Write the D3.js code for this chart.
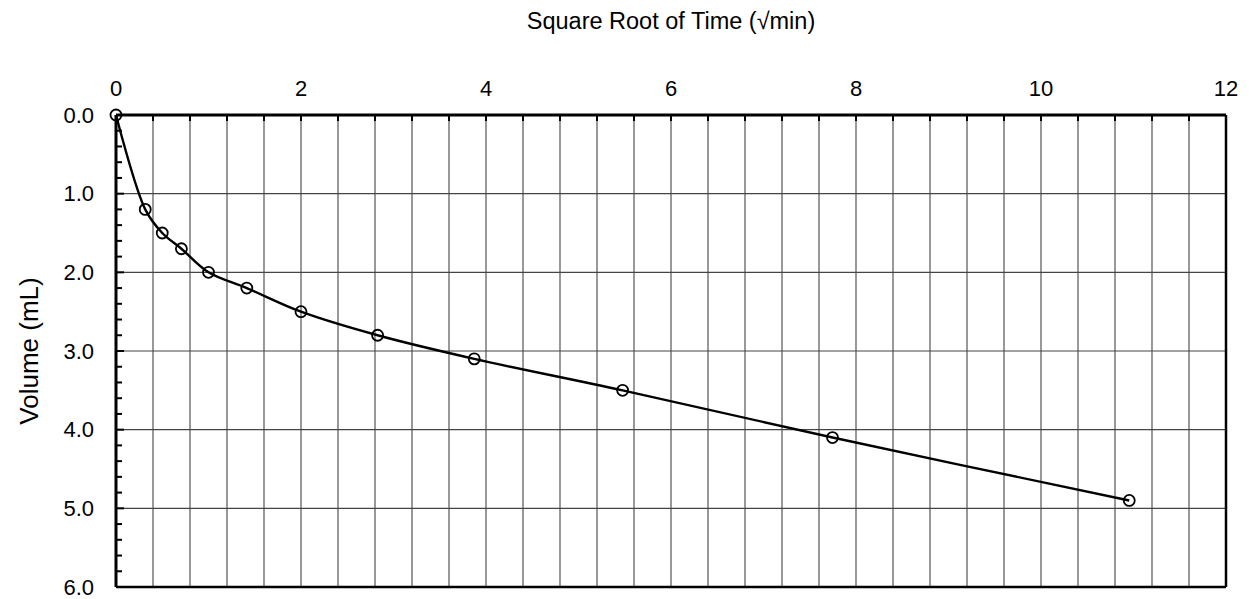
<!DOCTYPE html>
<html>
<head>
<meta charset="utf-8">
<script src="https://cdn.jsdelivr.net/npm/d3@7"></script>
<style>
  html, body { margin: 0; padding: 0; background: #fff; }
  svg { display: block; font-family: "Liberation Sans", Arial, sans-serif; }
</style>
</head>
<body>
<svg id="chart" width="1249" height="599"></svg>
<script>
// Square root of elapsed time (√min) and cumulative volume (mL)
const sqrtTime = [0, 0.316, 0.5, 0.707, 1.0, 1.414, 2.0, 2.828, 3.873, 5.477, 7.746, 10.954];
const volume   = [0, 1.2, 1.5, 1.7, 2.0, 2.2, 2.5, 2.8, 3.1, 3.5, 4.1, 4.9];
const xLabelTicks = [0, 2, 4, 6, 8, 10, 12];
const yLabelTicks = [0, 1, 2, 3, 4, 5, 6];

const svg = d3.select("#chart");
const plotL = 116, plotR = 1226, plotT = 115, plotB = 587;

const x = d3.scaleLinear().domain([0, 12]).range([plotL, plotR]);
const y = d3.scaleLinear().domain([0, 6]).range([plotT, plotB]);

const xGrid = d3.range(0, 12.0001, 0.4);
const yMinor = d3.range(0, 6.0001, 0.2);

// vertical gridlines every 0.4
svg.append("g").selectAll("line").data(xGrid.slice(1, -1)).join("line")
  .attr("x1", d => x(d)).attr("x2", d => x(d))
  .attr("y1", plotT).attr("y2", plotB)
  .attr("stroke", "#444").attr("stroke-width", 1.1);

// horizontal gridlines every 1.0
svg.append("g").selectAll("line").data(yLabelTicks.slice(1, -1)).join("line")
  .attr("x1", plotL).attr("x2", plotR)
  .attr("y1", d => y(d)).attr("y2", d => y(d))
  .attr("stroke", "#444").attr("stroke-width", 1.1);

// top axis ticks (pointing into the plot)
svg.append("g").selectAll("line").data(xGrid).join("line")
  .attr("x1", d => x(d)).attr("x2", d => x(d))
  .attr("y1", plotT).attr("y2", plotT + 6)
  .attr("stroke", "#000").attr("stroke-width", 2);

// left axis ticks (minor every 0.2, major every 1.0)
svg.append("g").selectAll("line").data(yMinor).join("line")
  .attr("x1", plotL).attr("x2", d => plotL + (Math.abs(d - Math.round(d)) < 1e-6 ? 8 : 6))
  .attr("y1", d => y(d)).attr("y2", d => y(d))
  .attr("stroke", "#000").attr("stroke-width", 2);

// plot frame
svg.append("line").attr("x1", plotL).attr("x2", plotR).attr("y1", plotT).attr("y2", plotT)
  .attr("stroke", "#000").attr("stroke-width", 3);
svg.append("line").attr("x1", plotL).attr("x2", plotL).attr("y1", plotT).attr("y2", plotB)
  .attr("stroke", "#000").attr("stroke-width", 3);
svg.append("line").attr("x1", plotR).attr("x2", plotR).attr("y1", plotT).attr("y2", plotB)
  .attr("stroke", "#000").attr("stroke-width", 2.5);
svg.append("line").attr("x1", plotL).attr("x2", plotR).attr("y1", plotB).attr("y2", plotB)
  .attr("stroke", "#000").attr("stroke-width", 2.5);

// tick labels
svg.append("g").selectAll("text").data(xLabelTicks).join("text")
  .attr("x", d => x(d)).attr("y", plotT - 19)
  .attr("text-anchor", "middle").attr("font-size", 22).attr("fill", "#000")
  .text(d => d3.format("d")(d));

svg.append("g").selectAll("text").data(yLabelTicks).join("text")
  .attr("x", plotL - 22).attr("y", d => y(d)).attr("dy", "0.35em")
  .attr("text-anchor", "end").attr("font-size", 22).attr("fill", "#000")
  .text(d => d3.format(".1f")(d));

// axis titles
svg.append("text").attr("x", x(6)).attr("y", 29)
  .attr("text-anchor", "middle").attr("font-size", 23.5).attr("fill", "#000")
  .text("Square Root of Time (√min)");

svg.append("text")
  .attr("transform", `translate(38,${(plotT + plotB) / 2}) rotate(-90)`)
  .attr("text-anchor", "middle").attr("font-size", 26).attr("fill", "#000")
  .text("Volume (mL)");

// data series
const pts = sqrtTime.map((t, i) => [t, volume[i]]);
const line = d3.line().x(d => x(d[0])).y(d => y(d[1])).curve(d3.curveCatmullRom.alpha(0.5));

svg.append("path").datum(pts)
  .attr("d", line).attr("fill", "none")
  .attr("stroke", "#000").attr("stroke-width", 2.4);

svg.append("g").selectAll("circle").data(pts).join("circle")
  .attr("cx", d => x(d[0])).attr("cy", d => y(d[1])).attr("r", 5.5)
  .attr("fill", "none").attr("stroke", "#000").attr("stroke-width", 1.8);
</script>
</body>
</html>
